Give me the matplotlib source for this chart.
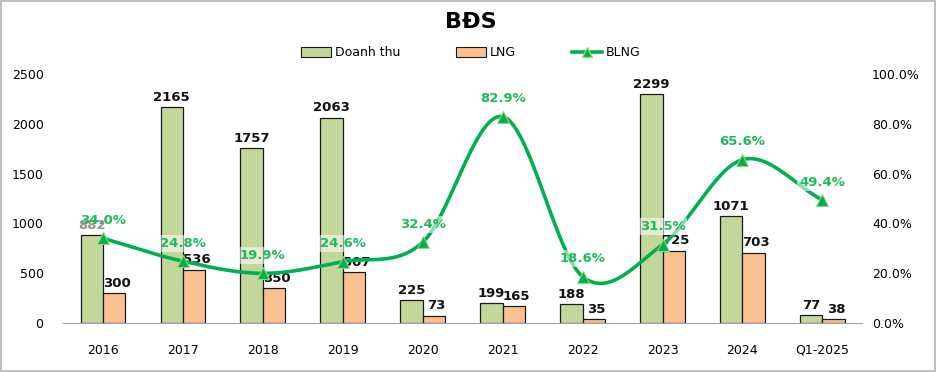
import numpy as np
import matplotlib.pyplot as plt
from matplotlib.lines import Line2D
from matplotlib.patches import Patch

years = ["2016", "2017", "2018", "2019", "2020", "2021", "2022", "2023", "2024", "Q1-2025"]
doanh_thu = [882, 2165, 1757, 2063, 225, 199, 188, 2299, 1071, 77]
lng = [300, 536, 350, 507, 73, 165, 35, 725, 703, 38]
blng = [34.0, 24.8, 19.9, 24.6, 32.4, 82.9, 18.6, 31.5, 65.6, 49.4]

GREEN_BAR = "#c4d79b"
ORANGE_BAR = "#fac090"
LINE = "#00b050"
LABEL_GREEN = "#1fb95a"


def smooth(x, y, n=30, t=0.5):
    # catmull-rom style curve through the points, like excel's smoothed line
    x = np.asarray(x, float)
    y = np.asarray(y, float)
    px = np.concatenate([[2 * x[0] - x[1]], x, [2 * x[-1] - x[-2]]])
    py = np.concatenate([[2 * y[0] - y[1]], y, [2 * y[-1] - y[-2]]])
    xs, ys = [], []
    for i in range(1, len(px) - 2):
        p0, p1, p2, p3 = [np.array([px[j], py[j]]) for j in (i - 1, i, i + 1, i + 2)]
        c1 = p1 + (p2 - p0) * t / 3
        c2 = p2 - (p3 - p1) * t / 3
        s = np.linspace(0, 1, n)[:, None]
        b = (1 - s) ** 3 * p1 + 3 * (1 - s) ** 2 * s * c1 + 3 * (1 - s) * s ** 2 * c2 + s ** 3 * p2
        xs.append(b[:, 0])
        ys.append(b[:, 1])
    return np.concatenate(xs), np.concatenate(ys)


plt.rcParams["font.family"] = ["DejaVu Sans"]
fig = plt.figure(figsize=(9.36, 3.72), dpi=100)
fig.patch.set_edgecolor("#bfbfbf")
fig.patch.set_linewidth(1.5)

ax = fig.add_axes([0.0673, 0.132, 0.854, 0.669])
ax2 = ax.twinx()

x = np.arange(len(years))
w = 0.28
ax.bar(x - w / 2, doanh_thu, w, color=GREEN_BAR, edgecolor="#1a1a1a", linewidth=0.9, zorder=2)
ax.bar(x + w / 2, lng, w, color=ORANGE_BAR, edgecolor="#1a1a1a", linewidth=0.9, zorder=2)

for xi, v in zip(x, doanh_thu):
    ax.text(xi - w / 2, v + 35, f"{v}", ha="center", va="bottom", fontsize=9.5,
            fontweight="bold", color="#111111")
for xi, v in zip(x, lng):
    ax.text(xi + w / 2 + 0.03, v + 35, f"{v}", ha="center", va="bottom", fontsize=9.5,
            fontweight="bold", color="#111111")

ax.set_ylim(0, 2500)
ax.set_yticks(np.arange(0, 2501, 500))
ax.set_xlim(-0.5, len(years) - 0.5)
ax.set_xticks(x)
ax.set_xticklabels(years)
ax.tick_params(axis="x", length=0, pad=15, labelsize=9)
ax.tick_params(axis="y", length=0, labelsize=9, pad=14)
for s in ["top", "right", "left"]:
    ax.spines[s].set_visible(False)
ax.spines["bottom"].set_color("#a6a6a6")

sx, sy = smooth(x, blng)
ax2.plot(sx, sy, color=LINE, lw=2.6, zorder=3, solid_capstyle="round")
ax2.plot(x, blng, ls="none", marker="^", ms=8, color=LINE, mec="#9bd37a", mew=0.8, zorder=4)
for xi, v in zip(x, blng):
    ax2.text(xi, v + 4.5, f"{v:.1f}%", ha="center", va="bottom", fontsize=9.5,
             fontweight="bold", color=LABEL_GREEN, zorder=5,
             bbox=dict(boxstyle="square,pad=0.15", fc="white", ec="none", alpha=0.55))
ax2.set_ylim(0, 100)
ax2.set_yticks(np.arange(0, 101, 20))
ax2.set_yticklabels([f"{v:.1f}%" for v in np.arange(0, 101, 20)])
ax2.tick_params(axis="y", length=0, labelsize=9, pad=7)
for s in ["top", "right", "left", "bottom"]:
    ax2.spines[s].set_visible(False)

fig.text(0.503, 0.94, "BĐS", ha="center", va="center", fontsize=16, fontweight="bold")

handles = [
    Patch(facecolor=GREEN_BAR, edgecolor="#1a1a1a", linewidth=0.8),
    Patch(facecolor=ORANGE_BAR, edgecolor="#1a1a1a", linewidth=0.8),
    Line2D([], [], color=LINE, lw=2.6, marker="^", ms=7, mec="#9bd37a"),
]
fig.legend(handles, ["Doanh thu", "LNG", "BLNG"], loc="center", bbox_to_anchor=(0.503, 0.858),
           ncol=3, frameon=False, fontsize=9, handlelength=2.4, handleheight=0.9,
           columnspacing=4.5, handletextpad=0.3)

fig.savefig("out.png", dpi=100, edgecolor=fig.get_edgecolor())
